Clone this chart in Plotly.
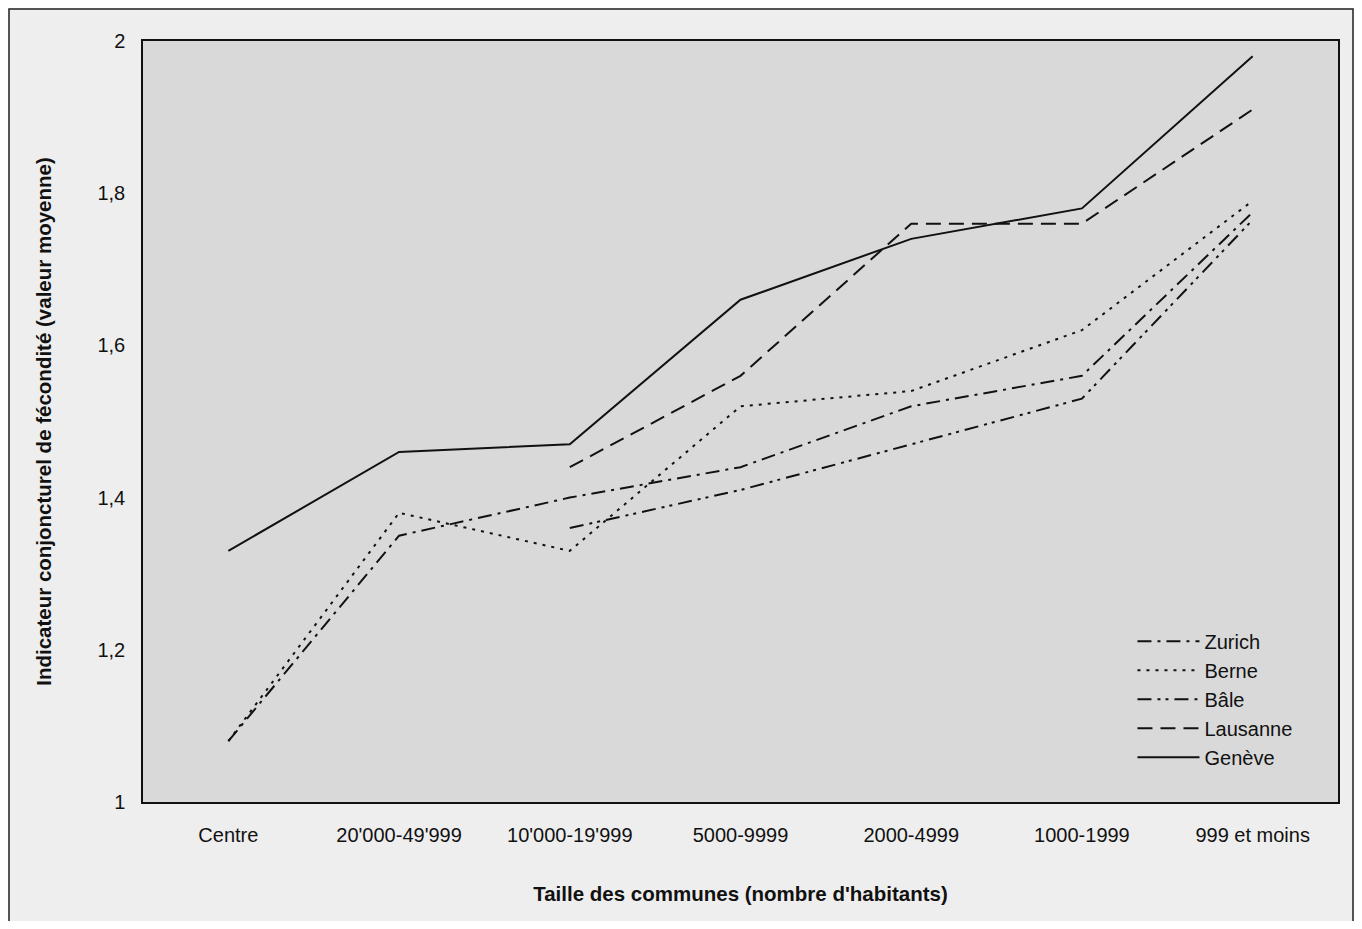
import plotly.graph_objects as go

categories = ["Centre", "20'000-49'999", "10'000-19'999", "5000-9999",
              "2000-4999", "1000-1999", "999 et moins"]

zurich = [1.08, 1.35, 1.40, 1.44, 1.52, 1.56, 1.775]
berne = [1.08, 1.38, 1.33, 1.52, 1.54, 1.62, 1.79]
bale = [None, None, 1.36, 1.41, 1.47, 1.53, 1.765]
lausanne = [None, None, 1.44, 1.56, 1.76, 1.76, 1.91]
geneve = [1.33, 1.46, 1.47, 1.66, 1.74, 1.78, 1.98]

y_tickvals = [1, 1.2, 1.4, 1.6, 1.8, 2]
y_ticktext = ["1", "1,2", "1,4", "1,6", "1,8", "2"]

FONT = "Liberation Sans, Arial, sans-serif"

series = [
    ("Zurich", zurich, "14px,6px,3px,6px"),
    ("Berne", berne, "3px,6px"),
    ("Bâle", bale, "14px,6px,3px,5px,3px,6px"),
    ("Lausanne", lausanne, "15px,8px"),
    ("Genève", geneve, "solid"),
]

W, H = 1346, 913
L, T = 135, 33
PW, PH = 1195, 761

fig = go.Figure()
x_idx = list(range(len(categories)))
for name, vals, dash in series:
    fig.add_trace(go.Scatter(
        x=x_idx, y=vals, name=name + " ", mode="lines",
        line=dict(color="#111111", width=2, dash=dash),
        connectgaps=False,
    ))

fig.update_layout(
    width=W, height=H,
    margin=dict(l=L, r=W - L - PW, t=T, b=H - T - PH, pad=0),
    paper_bgcolor="#eeeeee",
    plot_bgcolor="#d9d9d9",
    font=dict(family=FONT, size=20, color="#111111"),
    showlegend=True,
    legend=dict(
        x=0.828, y=0.237, xanchor="left", yanchor="top",
        bgcolor="rgba(0,0,0,0)", borderwidth=0,
        font=dict(family=FONT, size=20, color="#111111"),
        itemwidth=62, tracegroupgap=0,
    ),
    xaxis=dict(
        range=[-0.5, 6.5], tickmode="array", tickvals=x_idx, ticktext=categories,
        showgrid=False, zeroline=False, ticks="outside", ticklen=14,
        tickcolor="rgba(0,0,0,0)",
        showline=True, linecolor="#111111", linewidth=1.5, mirror=True,
        tickfont=dict(size=20), title=dict(
            text="<b>Taille des communes (nombre d'habitants)</b>",
            font=dict(size=20.5), standoff=42),
    ),
    yaxis=dict(
        range=[1, 2], tickmode="array", tickvals=y_tickvals, ticktext=y_ticktext,
        showgrid=False, zeroline=False, ticks="outside", ticklen=12,
        tickcolor="rgba(0,0,0,0)",
        showline=True, linecolor="#111111", linewidth=1.5, mirror=True,
        tickfont=dict(size=20), title=dict(
            text="<b>Indicateur conjoncturel de fécondité (valeur moyenne)</b>",
            font=dict(size=20.5), standoff=40),
    ),
    shapes=[dict(
        type="rect", xref="paper", yref="paper",
        x0=(1 - L) / PW, x1=(W - 1 - L) / PW,
        y0=(T + PH - (H + 20)) / PH, y1=(T + PH - 1) / PH,
        line=dict(color="#222222", width=1.5), fillcolor="rgba(0,0,0,0)",
        layer="below",
    )],
)

fig.write_html("out.html")
